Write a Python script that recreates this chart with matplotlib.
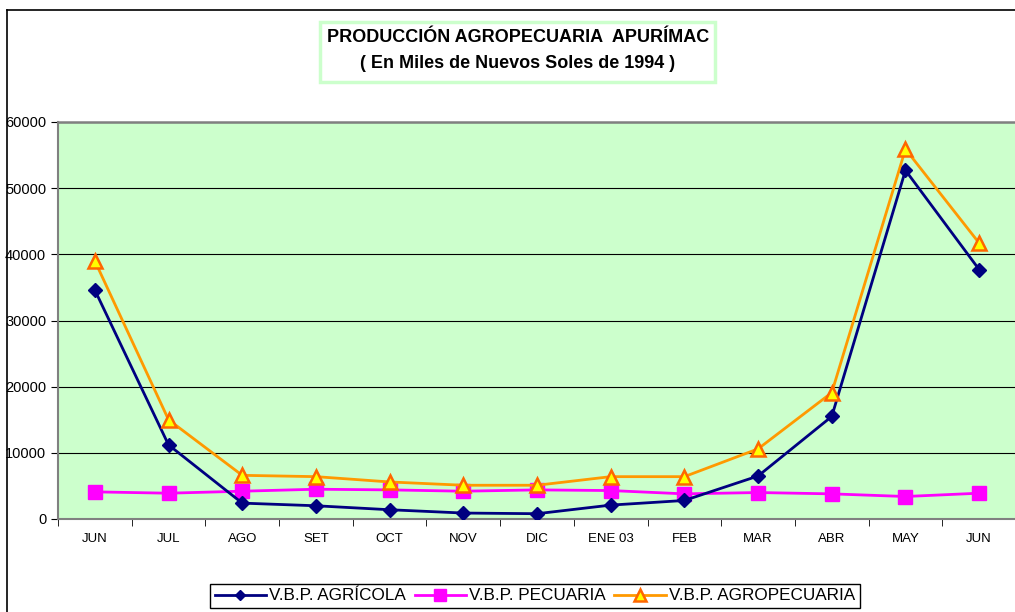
import matplotlib
matplotlib.use("Agg")
import matplotlib.pyplot as plt
from matplotlib.lines import Line2D
from matplotlib.patches import Rectangle

months = ["JUN", "JUL", "AGO", "SET", "OCT", "NOV", "DIC", "ENE 03",
          "FEB", "MAR", "ABR", "MAY", "JUN"]
agricola = [34600, 11200, 2400, 2000, 1400, 900, 800, 2100, 2800, 6500, 15500, 52700, 37700]
pecuaria = [4100, 3900, 4200, 4500, 4400, 4200, 4400, 4300, 3800, 4000, 3800, 3400, 3900]
agropecuaria = [39000, 15000, 6600, 6400, 5600, 5100, 5100, 6400, 6400, 10600, 19100, 55900, 41700]
yticks = [0, 10000, 20000, 30000, 40000, 50000, 60000]
title1 = "PRODUCCIÓN AGROPECUARIA  APURÍMAC"
title2 = "( En Miles de Nuevos Soles de 1994 )"
labels = ["V.B.P. AGRÍCOLA", "V.B.P. PECUARIA", "V.B.P. AGROPECUARIA"]

plt.rcParams['font.family'] = ['Liberation Sans', 'DejaVu Sans']

W, H = 1015, 612
fig = plt.figure(figsize=(W / 100, H / 100), dpi=100)
fig.patch.set_facecolor("white")

def fx(px):
    return px / W

def fy(py):
    return 1 - py / H

# outer chart border (top and left visible)
fig.add_artist(Line2D([fx(7), fx(7)], [fy(10), fy(640)], color="black", lw=1.2))
fig.add_artist(Line2D([fx(7), fx(1020)], [fy(10), fy(10)], color="black", lw=1.2))

ax = fig.add_axes([fx(58), fy(519), (1016 - 58) / W, (519 - 122) / H])
ax.set_facecolor("#CCFFCC")
x = list(range(len(months)))

ax.plot(x, agricola, color="#000080", lw=2, marker="D", ms=7,
        mfc="#000080", mec="#000080", label=labels[0], zorder=4)
ax.plot(x, pecuaria, color="#FF00FF", lw=2, marker="s", ms=10,
        mfc="#FF00FF", mec="#FF00FF", label=labels[1], zorder=3)
ax.plot(x, agropecuaria, color="#FF9900", lw=2, marker="^", ms=10,
        mfc="#FFFF00", mec="#FF6600", mew=1.8, label=labels[2], zorder=5)

ax.set_xlim(-0.5, len(months) - 0.5)
ax.set_ylim(0, 60000)
ax.set_yticks(yticks)
ax.set_yticklabels([str(v) for v in yticks], fontsize=10.5)
ax.set_xticks(x)
ax.set_xticklabels(months, fontsize=9.5)
ax.set_xticks([i + 0.5 for i in range(len(months) - 1)] + [-0.5], minor=True)
ax.tick_params(axis="x", which="major", length=0, pad=10)
ax.tick_params(axis="x", which="minor", length=5, direction="out", color="black")
ax.tick_params(axis="y", length=5, direction="out", color="black", pad=3.5)
ax.grid(axis="y", color="black", lw=0.8)
ax.set_axisbelow(True)
for s in ["top", "right"]:
    ax.spines[s].set_visible(False)
ax.spines["left"].set_color("#808080")
ax.spines["left"].set_linewidth(1.5)
ax.spines["bottom"].set_color("#808080")
ax.spines["bottom"].set_linewidth(1.5)
ax.axhline(60000, color="#808080", lw=1.8, clip_on=False)

# title box
fig.add_artist(Rectangle((fx(320), fy(82)), fx(715) - fx(320), fy(22) - fy(82),
                         facecolor="white", edgecolor="#CCFFCC", lw=2.5))
fig.text(fx(518), fy(38), title1, ha="center", va="center", fontsize=13,
         fontweight="bold")
fig.text(fx(518), fy(63), title2, ha="center", va="center", fontsize=13,
         fontweight="bold")

leg = fig.legend(loc="center", bbox_to_anchor=(fx(535), fy(596)), ncol=3,
                 fontsize=12.3, frameon=True, fancybox=False, framealpha=1,
                 edgecolor="black", handlelength=3, handletextpad=0.2,
                 columnspacing=0.5, borderpad=0.25, borderaxespad=0,
                 markerscale=0.8)
leg.get_frame().set_linewidth(1)

fig.savefig("out.png", dpi=100)
